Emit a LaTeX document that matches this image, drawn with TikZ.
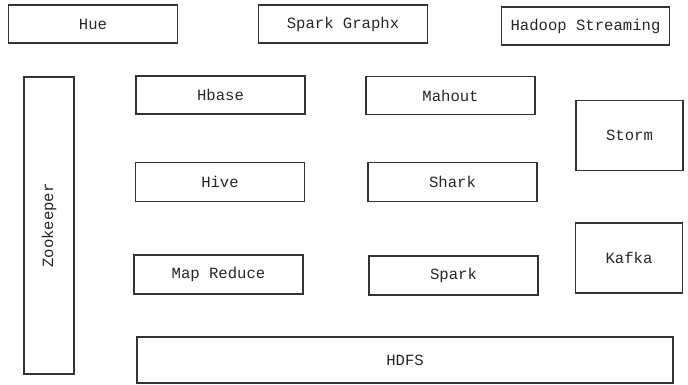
\documentclass[tikz,border=0pt]{standalone}
\usepackage{fontspec}
\setmainfont{Liberation Mono}
\begin{document}
\begin{tikzpicture}[x=1pt,y=-1pt,
  box/.style={draw=black!80, line width=1.7pt, inner sep=0pt, text=black!85, font=\fontsize{15.6}{18}\selectfont}]
\useasboundingbox (0,0) rectangle (688,385);
\node[box, minimum width=169pt, minimum height=38pt] (hue) at (93,24) {Hue};
\node[box, minimum width=169pt, minimum height=38pt] (graphx) at (343,24) {Spark Graphx};
\node[box, minimum width=168pt, minimum height=38pt] (streaming) at (585.5,26) {Hadoop Streaming};
\node[box, minimum width=50pt, minimum height=297pt] (zk) at (49,225.5) {};
\node[rotate=90, text=black!85, font=\fontsize{15.6}{18}\selectfont] (zkt) at (zk.center) {Zookeeper};
\node[box, minimum width=169pt, minimum height=38pt] (hbase) at (220.5,95) {Hbase};
\node[box, minimum width=169pt, minimum height=38pt] (mahout) at (450.5,95.5) {Mahout};
\node[box, minimum width=107pt, minimum height=70pt] (storm) at (629.5,135.5) {Storm};
\node[box, minimum width=169pt, minimum height=39pt] (hive) at (220,182) {Hive};
\node[box, minimum width=169pt, minimum height=39pt] (shark) at (452.5,182) {Shark};
\node[box, minimum width=107pt, minimum height=70pt] (kafka) at (629,258) {Kafka};
\node[box, minimum width=169pt, minimum height=39pt] (mr) at (218.5,274.5) {Map Reduce};
\node[box, minimum width=169pt, minimum height=39pt] (spark) at (453.5,275.5) {Spark};
\node[box, minimum width=536pt, minimum height=46pt] (hdfs) at (405,360) {HDFS};
\end{tikzpicture}
\end{document}
